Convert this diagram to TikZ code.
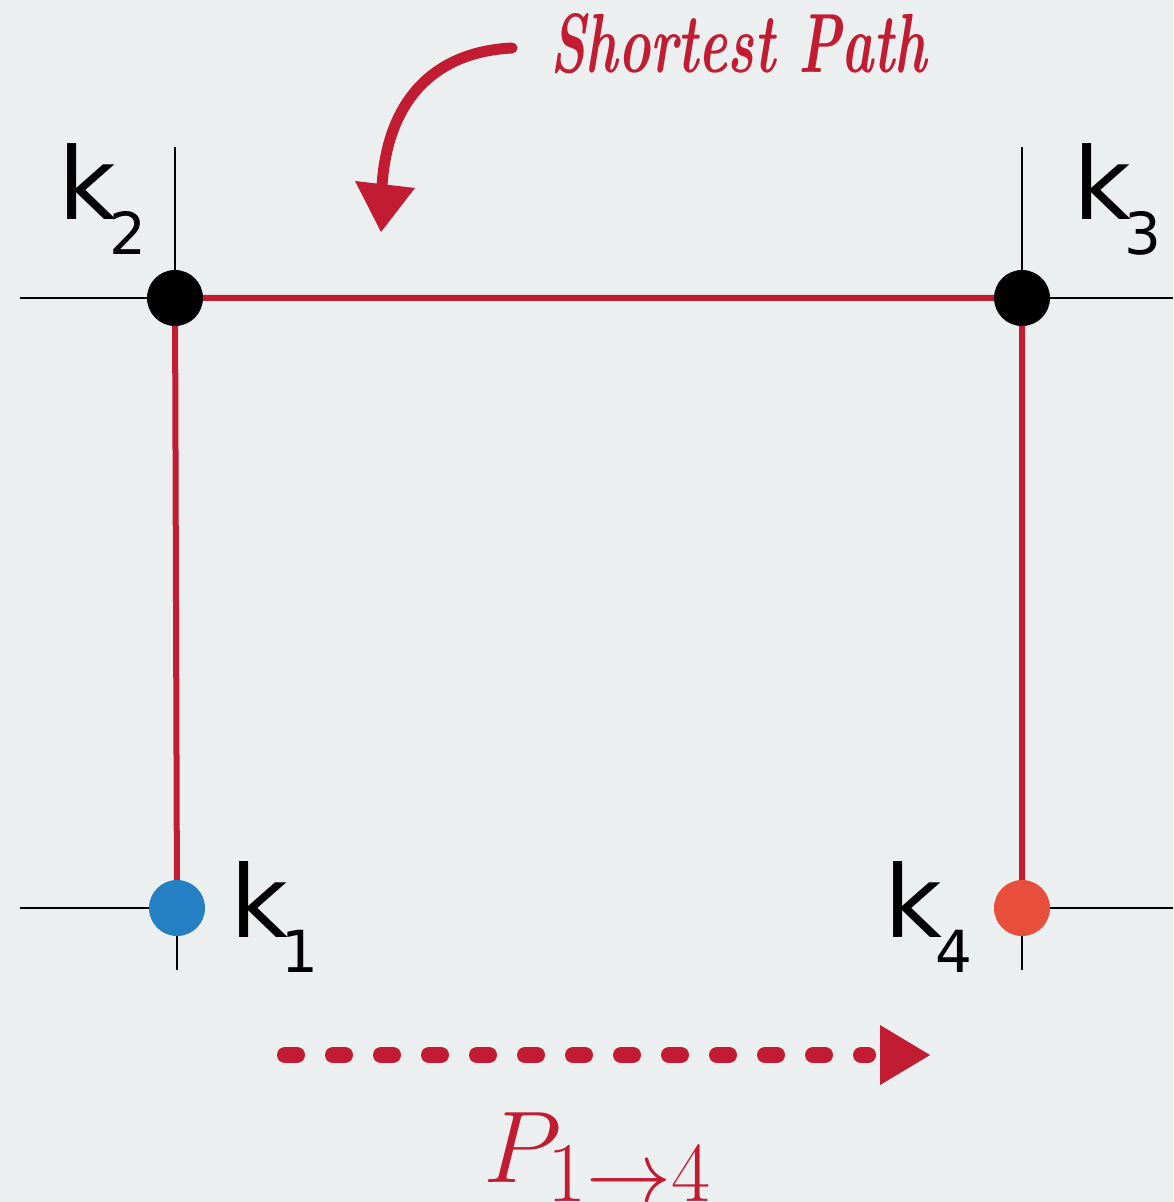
\documentclass[tikz,border=0pt]{standalone}
\usepackage{fontspec}
\setsansfont{DejaVu Sans}
\usepackage{graphicx}
\definecolor{bg}{HTML}{ECEFF0}
\definecolor{pathred}{HTML}{C21C32}
\definecolor{startblue}{HTML}{2580C3}
\definecolor{endred}{HTML}{E84E3C}
\newcommand\klabel[1]{\fontsize{50}{50}\sffamily k\kern-3pt\raisebox{-17.5pt}{\fontsize{29}{29}\selectfont #1}}
\begin{document}
\begin{tikzpicture}[x=0.5pt,y=-0.5pt,
  grid/.style={black,line width=1pt},
  route/.style={pathred,line width=3pt},
  dot/.style={circle,inner sep=0pt,minimum size=28pt},
  klab/.style={anchor=base west,inner sep=0pt,outer sep=0pt}]
\fill[bg] (0,0) rectangle (1173,1202);
\useasboundingbox (0,0) rectangle (1173,1202);
% coordinates
\coordinate (p2) at (175,298);
\coordinate (p3) at (1022,298);
\coordinate (p1) at (177,908);
\coordinate (p4) at (1022,908);
\coordinate (g2w) at (20,298);
\coordinate (g2n) at (175,147);
\coordinate (g3e) at (1173,298);
\coordinate (g3n) at (1022,147);
\coordinate (g1w) at (20,908);
\coordinate (g1s) at (177,970);
\coordinate (g4e) at (1173,908);
\coordinate (g4s) at (1022,970);
% grid stubs
\draw[grid] (g2w) -- (p2) -- (g2n);
\draw[grid] (g3e) -- (p3) -- (g3n);
\draw[grid] (g1w) -- (p1) -- (g1s);
\draw[grid] (g4e) -- (p4) -- (g4s);
% route
\draw[route] (p1) -- (p2) -- (p3) -- (p4);
% dots
\node[dot,fill=black] (k2) at (p2) {};
\node[dot,fill=black] (k3) at (p3) {};
\node[dot,fill=startblue] (k1) at (p1) {};
\node[dot,fill=endred] (k4) at (p4) {};
% labels
\node[klab] (l2) at (58,220) {\klabel{2}};
\node[klab] (l3) at (1073,220) {\klabel{3}};
\node[klab] (l1) at (230,937) {\klabel{1}};
\node[klab] (l4) at (884,937) {\klabel{4}};
% Shortest path annotation
\node[anchor=base west,inner sep=0pt,text=pathred] (sp) at (550,73)
  {\scalebox{0.65}[1]{\fontsize{42}{42}\selectfont\bfseries\itshape Shortest Path}};
\coordinate (cs) at (512,48);
\coordinate (ce) at (382,186);
\coordinate (ctip) at (381,232);
\draw[pathred,line width=5.5pt,line cap=round] (cs) .. controls (430,52) and (387,105) .. (ce);
\fill[pathred] (355,181) -- (415,188) -- (ctip) -- cycle;
% dotted arrow
\coordinate (da) at (285,1055);
\coordinate (db) at (868,1055);
\coordinate (dtip) at (930,1055);
\draw[pathred,line width=8pt,line cap=round,dash pattern=on 6pt off 18pt] (da) -- (db);
\fill[pathred] (880,1025) -- (dtip) -- (880,1085) -- cycle;
\node[anchor=base,inner sep=0pt,text=pathred] (plab) at (598,1182)
  {\scalebox{2.05}{\fontsize{24.88}{25}\selectfont $P_{1\to4}$}};
\end{tikzpicture}
\end{document}
